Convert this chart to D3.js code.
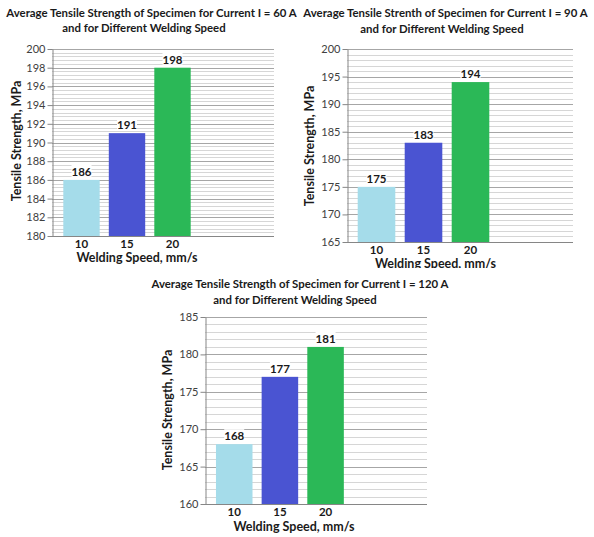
<!DOCTYPE html>
<html>
<head>
<meta charset="utf-8">
<script src="https://cdn.jsdelivr.net/npm/d3@7"></script>
<style>
  html, body { margin: 0; padding: 0; background: #ffffff; }
  svg { display: block; }
  text { font-family: "Lato", "Liberation Sans Narrow", sans-serif; }
</style>
</head>
<body>
<svg id="chart" width="594" height="537"></svg>
<script>
// Welding speed categories (mm/s)
const speeds = ["10", "15", "20"];

// Average tensile strength (MPa) per welding current
const strength60 = [186, 191, 198];
const strength90 = [175, 183, 194];
const strength120 = [168, 177, 181];

// Y tick labels for each panel
const yTicks60 = [180, 182, 184, 186, 188, 190, 192, 194, 196, 198, 200];
const yTicks90 = [165, 170, 175, 180, 185, 190, 195, 200];
const yTicks120 = [160, 165, 170, 175, 180, 185];

// Titles
const title60 = ["Average Tensile Strength of Specimen for Current I = 60 A", "and for Different Welding Speed"];
const title90 = ["Average Tensile Strenth of Specimen for Current I = 90 A", "and for Different Welding Speed"];
const title120 = ["Average Tensile Strength of Specimen for Current I = 120 A", "and for Different Welding Speed"];
const xTitle = "Welding Speed, mm/s";
const yTitle = "Tensile Strength, MPa";

const barColors = ["#a5dcea", "#4a54d2", "#2bb857"];

const svg = d3.select("#chart");

function drawPanel(p) {
  const g = svg.append("g");
  if (p.clipBottom) {
    const id = "clip" + Math.round(p.left);
    svg.append("clipPath").attr("id", id)
      .append("rect").attr("x", 0).attr("y", 0).attr("width", 594).attr("height", p.clipBottom);
    g.attr("clip-path", `url(#${id})`);
  }

  const x = d3.scaleBand().domain(speeds).range(p.band).paddingInner(0.2).paddingOuter(0.1);
  const y = d3.scaleLinear()
    .domain([p.ticks[0], p.ticks[p.ticks.length - 1]])
    .range([p.bottom, p.top]);

  // minor gridlines
  const majorSet = new Set(p.ticks.map(v => v.toFixed(3)));
  const minor = d3.range(p.ticks[0], p.ticks[p.ticks.length - 1] + 1e-9, p.minorStep)
    .filter(v => !majorSet.has(v.toFixed(3)));
  g.append("g").selectAll("line").data(minor).join("line")
    .attr("x1", p.left).attr("x2", p.right)
    .attr("y1", d => Math.round(y(d)) + 0.5).attr("y2", d => Math.round(y(d)) + 0.5)
    .attr("stroke", "#d6d6d6").attr("stroke-width", 1);

  // major gridlines
  g.append("g").selectAll("line").data(p.ticks.slice(1)).join("line")
    .attr("x1", p.left).attr("x2", p.right)
    .attr("y1", d => Math.round(y(d)) + 0.5).attr("y2", d => Math.round(y(d)) + 0.5)
    .attr("stroke", "#a6a6a6").attr("stroke-width", 1);

  // bars
  const rows = speeds.map((s, i) => ({ s, v: p.values[i], c: barColors[i] }));
  g.append("g").selectAll("rect").data(rows).join("rect")
    .attr("x", d => x(d.s)).attr("width", x.bandwidth())
    .attr("y", d => y(d.v)).attr("height", d => y(p.ticks[0]) - y(d.v))
    .attr("fill", d => d.c);

  // y axis
  const yAxis = g.append("g")
    .attr("transform", `translate(${p.left + 0.5},0)`)
    .call(d3.axisLeft(y).tickValues(p.ticks).tickSize(5).tickSizeOuter(0).tickPadding(2));
  yAxis.select(".domain").attr("stroke", "#868686");
  yAxis.selectAll(".tick line").attr("stroke", "#868686");
  yAxis.selectAll(".tick text")
    .attr("fill", "#404040").style("font-size", "11px").style("font-family", "Lato, sans-serif");

  // x baseline
  g.append("line")
    .attr("x1", p.left).attr("x2", p.right)
    .attr("y1", Math.round(p.bottom) + 0.5).attr("y2", Math.round(p.bottom) + 0.5)
    .attr("stroke", "#868686");

  // x axis labels
  const xAxis = g.append("g")
    .attr("transform", `translate(0,${p.bottom})`)
    .call(d3.axisBottom(x).tickSize(0).tickSizeOuter(0).tickPadding(4));
  xAxis.select(".domain").remove();
  xAxis.selectAll(".tick text")
    .attr("fill", "#1a1a1a").style("font-size", "11.5px").style("font-weight", "bold")
    .style("font-family", "Lato, sans-serif");

  // value labels with white backing
  const lbl = g.append("g").selectAll("g").data(rows).join("g")
    .attr("transform", d => `translate(${x(d.s) + x.bandwidth() / 2},${y(d.v) - 4})`);
  lbl.append("rect").attr("x", -10).attr("y", -11).attr("width", 20).attr("height", 12).attr("fill", "#ffffff");
  lbl.append("text").attr("text-anchor", "middle")
    .style("font-size", "11.5px").style("font-weight", "bold").attr("fill", "#1a1a1a")
    .text(d => d.v);

  // titles
  p.title.forEach((t, i) => {
    g.append("text")
      .attr("x", p.titleX[i]).attr("y", p.titleY[i])
      .attr("text-anchor", "middle")
      .style("font-size", "11.4px").style("font-weight", "bold").attr("fill", "#1a1a1a")
      .text(t);
  });

  g.append("text")
    .attr("x", p.xTitlePos[0]).attr("y", p.xTitlePos[1])
    .attr("text-anchor", "middle")
    .style("font-size", "12.5px").style("font-weight", "bold").attr("fill", "#1a1a1a")
    .text(xTitle);

  g.append("text")
    .attr("transform", `translate(${p.yTitlePos[0]},${p.yTitlePos[1]}) rotate(-90)`)
    .attr("text-anchor", "middle")
    .style("font-size", "12.5px").style("font-weight", "bold").attr("fill", "#1a1a1a")
    .text(yTitle);
}

drawPanel({
  values: strength60, ticks: yTicks60, minorStep: 0.4, title: title60,
  left: 52, right: 274, top: 49, bottom: 236, band: [58.75, 195.25],
  titleX: [151.5, 144], titleY: [16.5, 31.5],
  xTitlePos: [137, 262], yTitlePos: [21, 141]
});

drawPanel({
  values: strength90, ticks: yTicks90, minorStep: 1, title: title90,
  left: 347, right: 573, top: 49, bottom: 242, band: [353, 494],
  titleX: [445.5, 442], titleY: [17, 33],
  xTitlePos: [435.5, 268], yTitlePos: [314, 146], clipBottom: 268
});

drawPanel({
  values: strength120, ticks: yTicks120, minorStep: 1, title: title120,
  left: 205, right: 427, top: 317, bottom: 504, band: [211.4, 348.4],
  titleX: [300, 295], titleY: [287.5, 303.5],
  xTitlePos: [294, 531], yTitlePos: [172, 410]
});
</script>
</body>
</html>
